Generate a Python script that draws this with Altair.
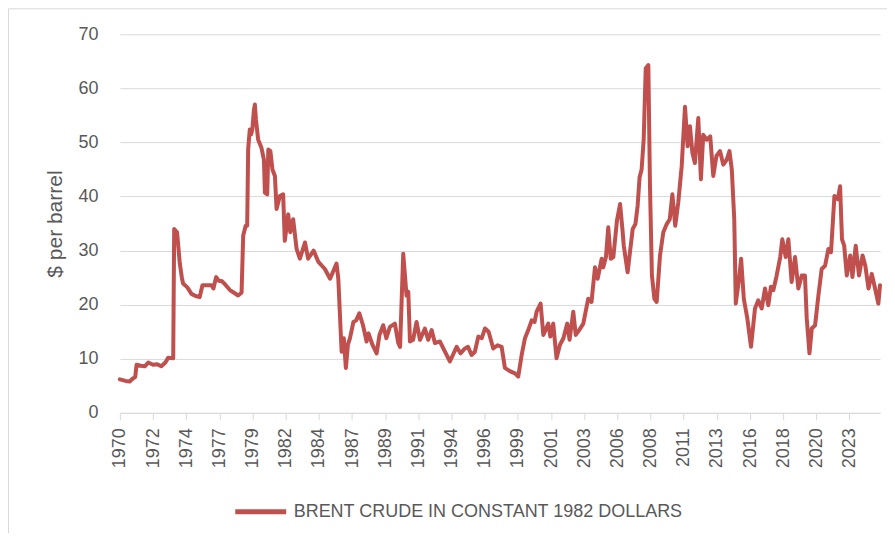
import altair as alt
import pandas as pd

SERIES = "BRENT CRUDE IN CONSTANT 1982 DOLLARS"

years = [
    1970.08, 1970.5, 1970.8, 1971.0, 1971.2, 1971.3, 1971.6, 1971.9, 1972.15, 1972.5,
    1972.8, 1973.1, 1973.4, 1973.6, 1973.97, 1974.04, 1974.25, 1974.45, 1974.6, 1974.69,
    1975.0, 1975.3, 1975.6, 1975.9, 1976.1, 1976.5, 1976.76, 1976.9, 1977.1, 1977.3,
    1977.5, 1977.8, 1978.1, 1978.4, 1978.7, 1978.95, 1979.07, 1979.25, 1979.36, 1979.43,
    1979.55, 1979.65, 1979.74, 1979.85, 1979.92, 1980.0, 1980.16, 1980.4, 1980.58, 1980.65,
    1980.82, 1980.9, 1981.05, 1981.2, 1981.38, 1981.5, 1981.74, 1981.98, 1982.1, 1982.35,
    1982.5, 1982.71, 1982.96, 1983.2, 1983.57, 1983.8, 1984.2, 1984.55, 1985.02, 1985.4,
    1985.6, 1985.87, 1986.0, 1986.24, 1986.4, 1986.55, 1986.7, 1986.85, 1987.1, 1987.3,
    1987.53, 1987.8, 1988.06, 1988.2, 1988.5, 1988.79, 1989.0, 1989.27, 1989.5, 1989.76,
    1990.12, 1990.37, 1990.5, 1990.73, 1990.97, 1991.1, 1991.22, 1991.45, 1991.7, 1991.95,
    1992.31, 1992.55, 1992.8, 1993.04, 1993.4, 1993.77, 1994.13, 1994.35, 1994.62, 1994.9,
    1995.23, 1995.45, 1995.71, 1995.95, 1996.2, 1996.45, 1996.69, 1996.95, 1997.29, 1997.6,
    1997.9, 1998.14, 1998.5, 1998.87, 1999.11, 1999.36, 1999.6, 1999.84, 2000.09, 2000.3,
    2000.45, 2000.74, 2000.94, 2001.3, 2001.45, 2001.66, 2001.9, 2002.15, 2002.4, 2002.68,
    2002.85, 2003.12, 2003.3, 2003.55, 2003.85, 2004.21, 2004.45, 2004.7, 2004.9, 2005.19,
    2005.3, 2005.5, 2005.67, 2005.85, 2006.04, 2006.3, 2006.53, 2006.7, 2006.8, 2007.08,
    2007.45, 2007.65, 2007.81, 2007.95, 2008.1, 2008.25, 2008.4, 2008.59, 2008.71, 2008.85,
    2009.03, 2009.2, 2009.44, 2009.68, 2009.93, 2010.15, 2010.34, 2010.55, 2010.77, 2011.02,
    2011.26, 2011.45, 2011.62, 2011.8, 2011.98, 2012.23, 2012.42, 2012.59, 2012.85, 2013.1,
    2013.32, 2013.55, 2013.81, 2014.05, 2014.3, 2014.5, 2014.67, 2014.85, 2014.96, 2015.2,
    2015.35, 2015.55, 2015.8, 2016.07, 2016.36, 2016.6, 2016.85, 2017.09, 2017.33, 2017.52,
    2017.7, 2017.94, 2018.2, 2018.35, 2018.6, 2018.79, 2019.03, 2019.28, 2019.52, 2019.77,
    2020.0, 2020.13, 2020.33, 2020.5, 2020.74, 2020.98, 2021.22, 2021.47, 2021.71, 2021.9,
    2022.15, 2022.4, 2022.56, 2022.7, 2022.86, 2023.05, 2023.3, 2023.46, 2023.7, 2023.94,
    2024.2, 2024.4, 2024.63, 2024.87, 2025.11, 2025.35, 2025.47,
]

prices = [
    6.2, 5.9, 5.8, 6.3, 6.6, 8.9, 8.7, 8.6, 9.3, 8.9,
    9.0, 8.6, 9.3, 10.2, 10.1, 34.0, 33.4, 27.6, 25.0, 23.9,
    23.2, 22.0, 21.6, 21.4, 23.6, 23.6, 23.6, 23.0, 25.1, 24.4,
    24.4, 23.6, 22.7, 22.2, 21.7, 22.2, 32.8, 34.6, 34.6, 48.7,
    52.4, 51.5, 52.5, 56.0, 57.0, 54.2, 50.5, 49.0, 46.8, 40.7,
    40.4, 48.7, 48.4, 45.0, 43.8, 37.7, 40.1, 40.4, 31.8, 36.7,
    33.4, 35.8, 30.3, 28.5, 31.5, 28.5, 30.0, 27.9, 26.6, 24.8,
    26.0, 27.6, 24.8, 11.3, 13.8, 8.3, 12.6, 13.8, 16.8, 17.1,
    18.4, 16.2, 13.2, 14.7, 12.5, 11.0, 14.4, 16.2, 13.8, 15.9,
    16.5, 12.9, 12.2, 29.4, 21.7, 22.4, 13.2, 13.5, 16.8, 13.5,
    15.6, 13.5, 15.3, 12.9, 13.2, 11.3, 9.5, 10.7, 12.2, 11.0,
    11.9, 12.2, 10.7, 11.3, 14.1, 13.8, 15.6, 15.0, 11.9, 12.5,
    12.2, 8.3, 7.7, 7.3, 6.7, 10.7, 13.8, 15.3, 17.1, 16.8,
    18.7, 20.2, 14.4, 16.5, 14.1, 16.5, 10.1, 12.6, 13.8, 16.5,
    13.5, 18.7, 14.4, 15.3, 16.5, 21.1, 20.5, 26.9, 24.8, 28.5,
    26.9, 28.8, 34.3, 28.5, 28.8, 35.5, 38.6, 34.0, 30.9, 26.0,
    34.0, 34.9, 38.3, 43.5, 45.0, 50.5, 63.7, 64.3, 41.9, 25.4,
    21.1, 20.5, 29.1, 33.4, 34.9, 35.8, 40.4, 34.6, 38.9, 45.6,
    56.6, 49.3, 53.0, 48.1, 46.2, 54.5, 43.2, 51.4, 50.5, 51.1,
    43.8, 47.5, 48.4, 45.9, 46.8, 48.4, 45.0, 35.8, 20.2, 24.8,
    28.5, 21.0, 17.5, 12.2, 19.3, 20.8, 19.3, 23.0, 19.9, 23.3,
    22.7, 25.4, 28.8, 32.1, 28.8, 32.1, 24.2, 28.8, 23.0, 25.4,
    25.4, 17.5, 11.0, 15.6, 16.2, 21.7, 26.6, 27.2, 30.3, 29.7,
    40.1, 39.5, 41.9, 32.1, 30.9, 25.4, 29.1, 25.1, 30.9, 25.4,
    29.1, 27.2, 23.0, 25.7, 23.0, 20.2, 23.6,
]

tick_labels = [1970, 1972, 1974, 1977, 1979, 1982, 1984, 1987, 1989, 1991, 1994,
               1996, 1999, 2001, 2003, 2006, 2008, 2011, 2013, 2016, 2018, 2020, 2023]
y_ticks = [0, 10, 20, 30, 40, 50, 60, 70]

# category axis: one label every 29 months, starting Feb 1970
start = 1970 + 1 / 12
tick_pos = [start + k * 29 / 12 for k in range(len(tick_labels))]
label_expr = "[" + ",".join(f"'{t}'" for t in tick_labels) + "][round((datum.value - %.6f) * 12 / 29)]" % start

df = pd.DataFrame({"year": years, "price": prices, "series": SERIES})

FONT = "Liberation Sans"
GREY = "#595959"
GRID = "#d9d9d9"
RED = "#C0504D"

line = alt.Chart(df).mark_line(strokeWidth=4, strokeJoin="round", strokeCap="round").encode(
    x=alt.X("year:Q",
            scale=alt.Scale(domain=[start, 2025.47], nice=False, zero=False),
            axis=alt.Axis(values=tick_pos, labelExpr=label_expr, labelAngle=-90,
                          labelFontSize=18, labelColor=GREY, labelFont=FONT,
                          labelPadding=8, tickSize=7, tickColor=GRID, domainColor=GRID,
                          grid=False, title=None, labelOverlap=False, labelFlush=False)),
    y=alt.Y("price:Q",
            scale=alt.Scale(domain=[0, 70], nice=False),
            axis=alt.Axis(values=y_ticks, labelFontSize=18, labelColor=GREY, labelFont=FONT,
                          labelPadding=22, ticks=False, domain=False,
                          gridColor=GRID,
                          title="$ per barrel", titleFontSize=21, titleFont=FONT,
                          titleFontWeight="normal", titleColor=GREY, titlePadding=12)),
    color=alt.Color("series:N",
                    scale=alt.Scale(range=[RED]),
                    legend=alt.Legend(title=None, orient="none", legendX=113, legendY=450,
                                      symbolType="stroke", symbolSize=2600, symbolStrokeWidth=5,
                                      labelFontSize=18, labelFont=FONT, labelColor=GREY,
                                      labelOffset=5, padding=0, labelLimit=600)),
)

frame_data = alt.Data(values=[{"k": 1}])
top_border = alt.Chart(frame_data).mark_rule(color=GRID, strokeWidth=1).encode(
    x=alt.value(-111.5), x2=alt.value(800), y=alt.value(-25.5))
left_border = alt.Chart(frame_data).mark_rule(color=GRID, strokeWidth=1).encode(
    x=alt.value(-111.5), y=alt.value(-25.5), y2=alt.value(520))

chart = alt.layer(top_border, left_border, line).properties(
    width=761, height=379,
    background="white",
    autosize=alt.AutoSizeParams(type="none"),
    padding={"left": 112, "top": 26, "right": 7, "bottom": 120},
).configure_view(stroke=None)

chart.save("out.html", embed_options={"renderer": "svg", "actions": False})
